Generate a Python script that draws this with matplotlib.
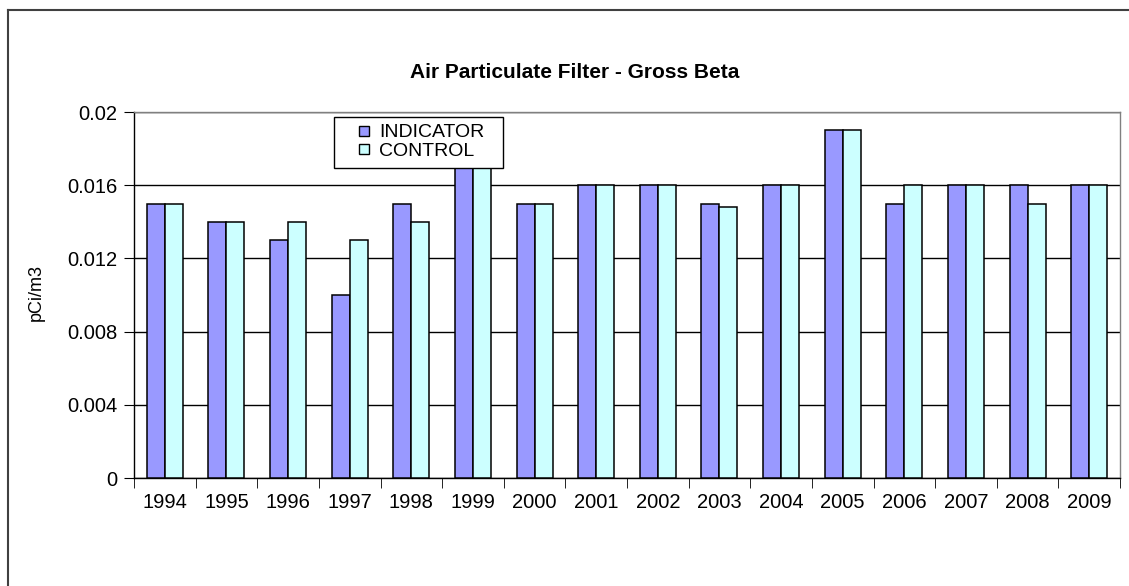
import matplotlib
matplotlib.use("Agg")
import matplotlib.pyplot as plt
import numpy as np
from matplotlib.lines import Line2D
from matplotlib.patches import Rectangle

years = ["1994", "1995", "1996", "1997", "1998", "1999", "2000", "2001",
         "2002", "2003", "2004", "2005", "2006", "2007", "2008", "2009"]
indicator = [0.015, 0.014, 0.013, 0.010, 0.015, 0.017, 0.015, 0.016,
             0.016, 0.015, 0.016, 0.019, 0.015, 0.016, 0.016, 0.016]
control = [0.015, 0.014, 0.014, 0.013, 0.014, 0.017, 0.015, 0.016,
           0.016, 0.0148, 0.016, 0.019, 0.016, 0.016, 0.015, 0.016]
yticks = [0, 0.004, 0.008, 0.012, 0.016, 0.02]
ytick_labels = ["0", "0.004", "0.008", "0.012", "0.016", "0.02"]
series_names = ["INDICATOR", "CONTROL"]
series_colors = ["#9999FF", "#CCFFFF"]

plt.rcParams['font.family'] = ['Liberation Sans', 'DejaVu Sans']

W, H = 1129, 586
fig = plt.figure(figsize=(W / 100, H / 100), dpi=100)
ax = fig.add_axes([134 / W, 1 - 478 / H, (1120 - 134) / W, (478 - 112) / H])

x = np.arange(len(years))
bw = 0.292
ax.bar(x - bw / 2, indicator, bw, color=series_colors[0], edgecolor="black",
       linewidth=1.1, zorder=3)
ax.bar(x + bw / 2, control, bw, color=series_colors[1], edgecolor="black",
       linewidth=1.1, zorder=3)

ax.set_xlim(-0.5, len(years) - 0.5)
ax.set_ylim(0, 0.02)
ax.set_yticks(yticks)
ax.set_yticklabels(ytick_labels, fontsize=14.5)
ax.yaxis.grid(True, color="black", linewidth=1.0, zorder=0)
ax.set_axisbelow(True)

ax.set_xticks(x)
ax.set_xticklabels(years, fontsize=14.5)
ax.tick_params(axis="x", length=0, pad=11)
ax.set_xticks(np.arange(-0.5, len(years), 1.0), minor=True)
ax.tick_params(axis="x", which="minor", length=7, direction="out", color="black")
ax.tick_params(axis="y", length=7, direction="out", color="black", pad=5)

for side in ["top", "right"]:
    ax.spines[side].set_color("#808080")
for side in ["left", "bottom"]:
    ax.spines[side].set_color("black")
for s in ax.spines.values():
    s.set_linewidth(1.0)

ax.set_ylabel("pCi/m3", fontsize=13)
ax.yaxis.set_label_coords((45 - 134) / (1120 - 134), (478 - 292) / (478 - 112))
fig.text(575 / W, 1 - 73 / H, "Air Particulate Filter - Gross Beta", ha="center",
         va="center", fontsize=15, fontweight="bold")

# legend frame drawn explicitly (Excel-style wide box)
fig.add_artist(Rectangle((334 / W, 1 - 168 / H), (503 - 334) / W, (168 - 117) / H,
                         transform=fig.transFigure, facecolor="white",
                         edgecolor="black", linewidth=1.0, zorder=4))
handles = [Line2D([], [], marker="s", linestyle="none", markersize=7.5,
                  markerfacecolor=c, markeredgecolor="black", markeredgewidth=1.0)
           for c in series_colors]
leg = fig.legend(handles, series_names, loc="upper left",
                 bbox_to_anchor=(347 / W, 1 - 117 / H),
                 fontsize=14, frameon=False, borderpad=0.35,
                 handlelength=1.0, handletextpad=0.3,
                 labelspacing=0.05, borderaxespad=0)
leg.set_zorder(5)

# outer chart border (top and left visible)
fig.add_artist(Line2D([8 / W, 1.0], [1 - 10 / H, 1 - 10 / H], color="#404040",
                      linewidth=1.5, transform=fig.transFigure))
fig.add_artist(Line2D([8 / W, 8 / W], [1 - 10 / H, 0.0], color="#404040",
                      linewidth=1.5, transform=fig.transFigure))

fig.savefig("out.png", dpi=100)
